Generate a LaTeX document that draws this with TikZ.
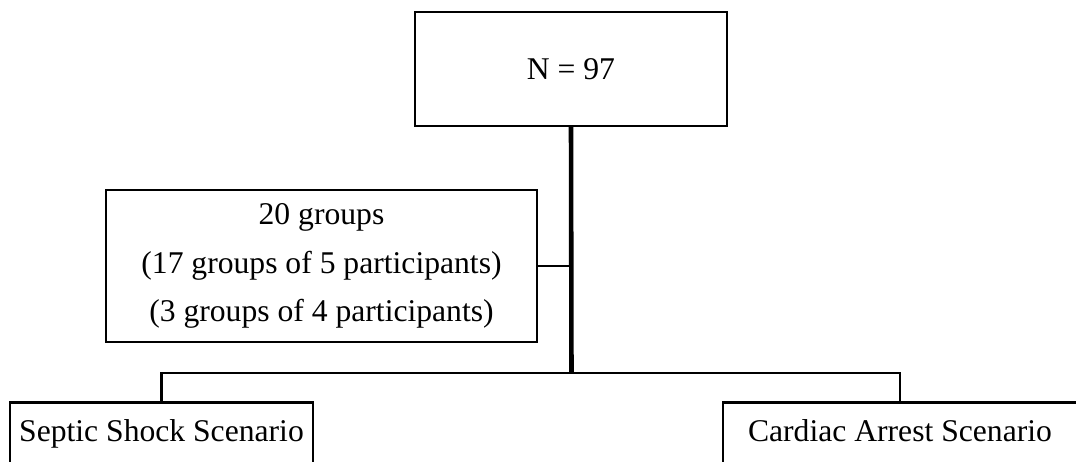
\documentclass[tikz,border=0pt]{standalone}
\usepackage{fontspec}
\setmainfont{Liberation Serif}
\usetikzlibrary{positioning,calc}

\begin{document}
\begin{tikzpicture}[
  box/.style={draw,line width=1.2pt,inner sep=0pt,align=center,
    font=\fontsize{18}{27.4}\selectfont},
  scenario/.style={box,minimum height=1.38cm,text height=0.7em,text depth=0.22em},
  link/.style={line width=1.2pt},
  trunk/.style={line width=2.6pt}
]
\useasboundingbox (0,0) rectangle (21.52,9.24);

% Flow chart of the participants
\node[box,minimum width=6.24cm,minimum height=2.28cm] (total) at (11.42,7.86) {N = 97};
\node[box,minimum width=8.62cm,minimum height=3.04cm] (groups) at (6.43,3.92)
  {20 groups\\(17 groups of 5 participants)\\(3 groups of 4 participants)};
\coordinate (split) at (11.43,1.78);

% Scenarios
\node[scenario,minimum width=6.06cm] (septic) at (3.23,0.50) {Septic Shock Scenario};
\node[scenario,minimum width=7.08cm] (cardiac) at (18.0,0.50) {Cardiac Arrest Scenario};

\draw[trunk] (total.south) -- (split);
\draw[link] (groups.east) -- (groups.east -| split);
\draw[link] (septic.north) |- (split) -| (cardiac.north);
\end{tikzpicture}
\end{document}
